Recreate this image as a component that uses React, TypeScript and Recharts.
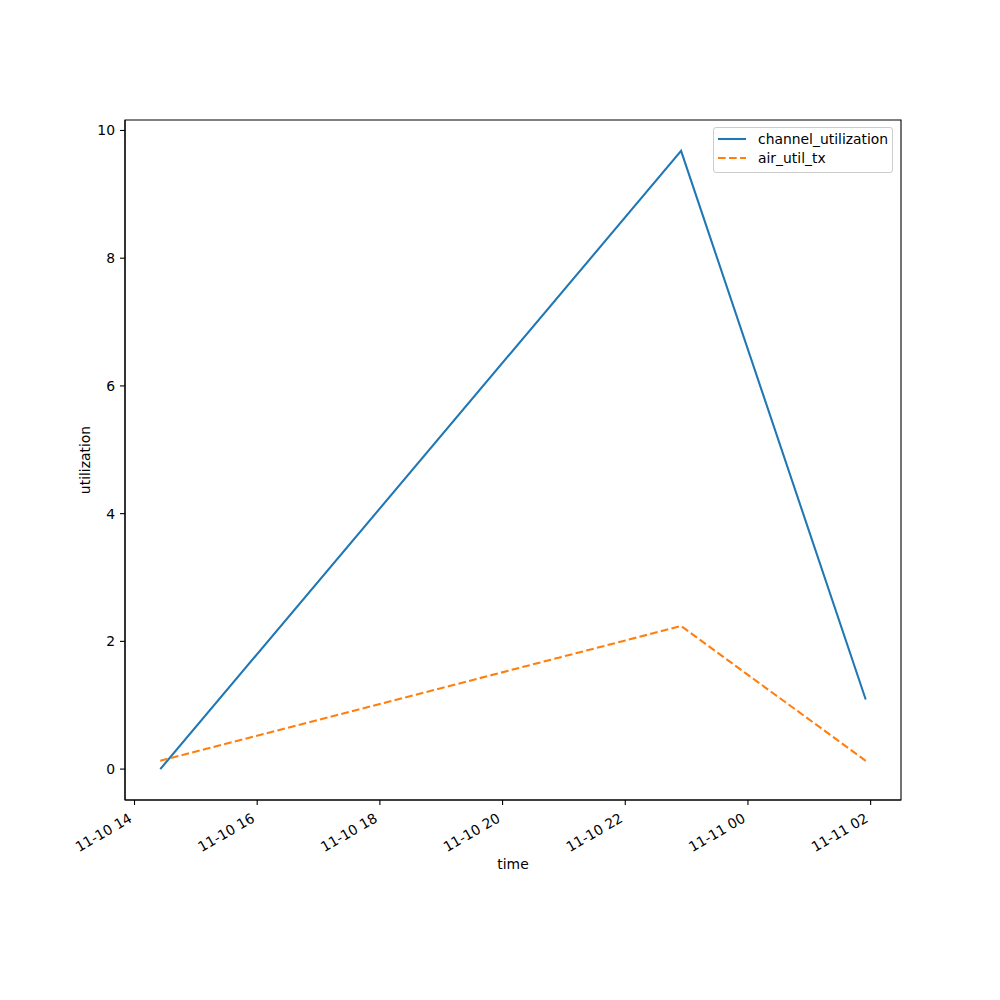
import { LineChart, Line, XAxis, YAxis, ReferenceArea, Label } from 'recharts';

// hours counted from 11-10 00:00
const times = [14.42, 22.91, 25.92];
const channelUtilization = [0, 9.68, 1.09];
const airUtilTx = [0.13, 2.24, 0.13];
const xTicks = [14, 16, 18, 20, 22, 24, 26];
const yTicks = [0, 2, 4, 6, 8, 10];

const BLUE = '#1f77b4';
const ORANGE = '#ff7f0e';
const FONT = 13.9;

const data = times.map((t, i) => ({
  t,
  channel_utilization: channelUtilization[i],
  air_util_tx: airUtilTx[i],
}));

// matplotlib style 5% margins
const pad = (lo: number, hi: number) => [lo - (hi - lo) * 0.05, hi + (hi - lo) * 0.05];
const xDomain = pad(Math.min(...times), Math.max(...times));
const allY = [...channelUtilization, ...airUtilTx];
const yDomain = pad(Math.min(...allY), Math.max(...allY));

const fmtTime = (h: number) => {
  const day = h >= 24 ? '11-11' : '11-10';
  const hh = String(h % 24).padStart(2, '0');
  return `${day} ${hh}`;
};

const TimeTick = (props: any) => {
  const { x, y, payload } = props;
  const ax = x - 1.5;
  const ay = y + 11;
  return (
    <text
      x={ax}
      y={ay}
      textAnchor="end"
      fontSize={FONT}
      fill="#000"
      transform={`rotate(-30, ${ax}, ${ay})`}
    >
      {fmtTime(payload.value)}
    </text>
  );
};

function LegendBox() {
  const items = [
    { name: 'channel_utilization', color: BLUE, dash: undefined },
    { name: 'air_util_tx', color: ORANGE, dash: '7.7 3.3' },
  ];
  return (
    <div
      style={{
        position: 'absolute',
        left: 713,
        top: 127,
        width: 180,
        height: 46,
        border: '1px solid #cccccc',
        borderRadius: 3,
        background: 'rgba(255,255,255,0.8)',
        boxSizing: 'border-box',
      }}
    >
      {items.map((it, i) => (
        <div key={it.name} style={{ position: 'absolute', left: 3, top: 2 + i * 19, height: 18, display: 'flex', alignItems: 'center' }}>
          <svg width={30} height={10}>
            <line x1={1} y1={5} x2={29} y2={5} stroke={it.color} strokeWidth={2.08} strokeDasharray={it.dash} />
          </svg>
          <span style={{ marginLeft: 11, fontSize: FONT, lineHeight: '18px' }}>{it.name}</span>
        </div>
      ))}
    </div>
  );
}

export default function App() {
  return (
    <div style={{ position: 'absolute', left: 0, top: 0, width: 1000, height: 1000, background: '#fff', fontFamily: '"DejaVu Sans", sans-serif' }}>
      <LineChart width={1000} height={1000} data={data} margin={{ top: 120, right: 99, left: 45, bottom: 72 }}>
        <XAxis
          dataKey="t"
          type="number"
          domain={xDomain}
          ticks={xTicks}
          allowDataOverflow
          height={128}
          tickSize={5}
          tickMargin={5}
          tick={<TimeTick />}
          axisLine={{ stroke: '#000', strokeWidth: 1.1 }}
          tickLine={{ stroke: '#000', strokeWidth: 1.1 }}
        >
          <Label value="time" position="center" fill="#000" fontSize={FONT} />
        </XAxis>
        <YAxis
          type="number"
          domain={yDomain}
          ticks={yTicks}
          allowDataOverflow
          width={80}
          tickSize={5}
          tickMargin={5}
          tick={{ fill: '#000', fontSize: FONT }}
          axisLine={{ stroke: '#000', strokeWidth: 1.1 }}
          tickLine={{ stroke: '#000', strokeWidth: 1.1 }}
        >
          <Label value="utilization" position="center" angle={-90} fill="#000" fontSize={FONT} />
        </YAxis>
        <ReferenceArea
          x1={xDomain[0]}
          x2={xDomain[1]}
          y1={yDomain[0]}
          y2={yDomain[1]}
          fill="none"
          fillOpacity={0}
          stroke="#000"
          strokeWidth={1.1}
          ifOverflow="visible"
        />
        <Line
          type="linear"
          dataKey="channel_utilization"
          stroke={BLUE}
          strokeWidth={2.08}
          dot={false}
          isAnimationActive={false}
        />
        <Line
          type="linear"
          dataKey="air_util_tx"
          stroke={ORANGE}
          strokeWidth={2.08}
          strokeDasharray="7.7 3.3"
          dot={false}
          isAnimationActive={false}
        />
      </LineChart>
      <LegendBox />
    </div>
  );
}
